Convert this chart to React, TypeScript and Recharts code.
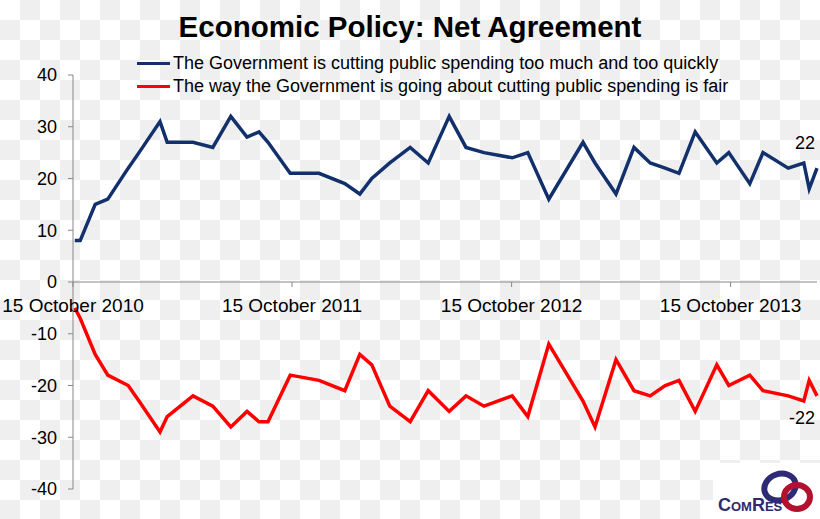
import { Line, LineChart, ReferenceLine, XAxis, YAxis } from "recharts";

// poll dates and net agreement for each statement
const pollDates = [
  "2010-10-18", "2010-10-27", "2010-11-21", "2010-12-12", "2011-01-15",
  "2011-02-02", "2011-03-09", "2011-03-21", "2011-05-03", "2011-06-05",
  "2011-07-05", "2011-08-01", "2011-08-21", "2011-09-05", "2011-10-12",
  "2011-11-29", "2012-01-11", "2012-02-05", "2012-02-25", "2012-03-26",
  "2012-04-29", "2012-05-29", "2012-07-03", "2012-07-31", "2012-08-30",
  "2012-10-16", "2012-11-11", "2012-12-16", "2013-02-11", "2013-03-03",
  "2013-04-07", "2013-05-07", "2013-06-03", "2013-06-28", "2013-07-21",
  "2013-08-17", "2013-09-22", "2013-10-12", "2013-11-16", "2013-12-08",
  "2014-01-19", "2014-02-14", "2014-02-23", "2014-03-08",
];

const tooMuchTooQuickly = [
  8, 8, 15, 16, 22, 25, 31, 27, 27, 26,
  32, 28, 29, 27, 21, 21, 19, 17, 20, 23,
  26, 23, 32, 26, 25, 24, 25, 16, 27, 23,
  17, 26, 23, 22, 21, 29, 23, 25, 19, 25,
  22, 23, 18, 22,
];

const goingAboutItFairly = [
  -5, -7, -14, -18, -20, -23, -29, -26, -22, -24,
  -28, -25, -27, -27, -18, -19, -21, -14, -16, -24,
  -27, -21, -25, -22, -24, -22, -26, -12, -23, -28,
  -15, -21, -22, -20, -19, -25, -16, -20, -18, -21,
  -22, -23, -19, -22,
];

const xTickDates = ["2010-10-15", "2011-10-15", "2012-10-15", "2013-10-15"];
const yTicks = [-40, -30, -20, -10, 0, 10, 20, 30, 40];

const seriesNames = [
  "The Government is cutting public spending too much and too quickly",
  "The way the Government is going about cutting public spending is fair",
];

const MONTHS = [
  "January", "February", "March", "April", "May", "June",
  "July", "August", "September", "October", "November", "December",
];

const toTime = (s: string) => {
  const [y, m, d] = s.split("-").map(Number);
  return Date.UTC(y, m - 1, d);
};

const data = pollDates.map((d, i) => ({
  t: toTime(d),
  tooMuch: tooMuchTooQuickly[i],
  fair: goingAboutItFairly[i],
}));

const WIDTH = 820;
const HEIGHT = 519;
const TOP = 75;
const X_AXIS_H = 30;
const PLOT_H = HEIGHT - TOP - X_AXIS_H;
const ZERO_Y = TOP + PLOT_H / 2;

const BLUE = "#12306b";
const RED = "#ff0000";
const FONT = "'Liberation Sans', Arial, sans-serif";

const formatDate = (t: number) => {
  const d = new Date(t);
  return `${d.getUTCDate()} ${MONTHS[d.getUTCMonth()]} ${d.getUTCFullYear()}`;
};

// x axis sits on the zero line, so the ticks are drawn there
const ZeroAxisTick = ({ x, payload }: any) => (
  <g>
    <line x1={x} x2={x} y1={ZERO_Y} y2={ZERO_Y + 5} stroke="#888" />
    <text
      x={x}
      y={ZERO_Y + 30}
      textAnchor="middle"
      fontSize={19}
      fontFamily={FONT}
      fill="#000"
    >
      {formatDate(payload.value)}
    </text>
  </g>
);

const endLabel = (dy: number) => (props: any) => {
  const { x, y, index, value } = props;
  if (index !== data.length - 1) return null;
  return (
    <text
      x={x - 2}
      y={y + dy}
      textAnchor="end"
      fontSize={18}
      fontFamily={FONT}
      fill="#000"
    >
      {value}
    </text>
  );
};

const Logo = () => (
  <div
    style={{
      position: "absolute",
      left: 713,
      top: 463,
      width: 107,
      height: 56,
      background: "#fff",
    }}
  >
    <svg width={107} height={56}>
      <ellipse
        cx={67}
        cy={24}
        rx={16}
        ry={13}
        fill="none"
        stroke="#2e2a78"
        strokeWidth={6}
        transform="rotate(-20 67 24)"
      />
      <ellipse
        cx={84}
        cy={34}
        rx={13}
        ry={12}
        fill="none"
        stroke="#b3122e"
        strokeWidth={6}
      />
      <text
        x={5}
        y={48}
        fontSize={18}
        fontFamily={FONT}
        fill="#2e2a6b"
        fontWeight="bold"
        style={{ fontVariant: "small-caps" }}
      >
        ComRes
      </text>
    </svg>
  </div>
);

export default function App() {
  return (
    <div
      style={{
        position: "absolute",
        left: 0,
        top: 0,
        width: WIDTH,
        height: HEIGHT,
        backgroundColor: "#fff",
        backgroundImage:
          "repeating-conic-gradient(#efefef 0 25%, #ffffff 0 50%)",
        backgroundSize: "40px 40px",
        fontFamily: FONT,
        overflow: "hidden",
      }}
    >
      <div
        style={{
          position: "absolute",
          left: 0,
          top: 10,
          width: WIDTH,
          textAlign: "center",
          fontSize: 29.5,
          fontWeight: "bold",
          color: "#000",
        }}
      >
        Economic Policy: Net Agreement
      </div>

      {/* legend */}
      {seriesNames.map((name, i) => (
        <div
          key={name}
          style={{
            position: "absolute",
            left: 137,
            top: 52 + i * 23,
            height: 23,
            display: "flex",
            alignItems: "center",
            fontSize: 18,
            color: "#000",
            whiteSpace: "nowrap",
          }}
        >
          <span
            style={{
              display: "inline-block",
              width: 33,
              height: 3,
              background: i === 0 ? BLUE : RED,
              marginRight: 3,
            }}
          />
          {name}
        </div>
      ))}

      <div style={{ position: "absolute", left: 0, top: 0 }}>
        <LineChart
          width={WIDTH}
          height={HEIGHT}
          data={data}
          margin={{ top: TOP, right: 3, bottom: 0, left: 0 }}
        >
          <XAxis
            dataKey="t"
            type="number"
            domain={[toTime("2010-10-15"), toTime("2014-03-08")]}
            ticks={xTickDates.map(toTime)}
            axisLine={false}
            tickLine={false}
            tick={<ZeroAxisTick />}
            height={X_AXIS_H}
            interval={0}
          />
          <YAxis
            domain={[-40, 40]}
            ticks={yTicks}
            width={73}
            stroke="#888"
            tickSize={5}
            tickMargin={11}
            tick={{ fontSize: 18, fill: "#000", fontFamily: FONT }}
            interval={0}
          />
          <ReferenceLine y={0} stroke="#888" />
          <Line
            dataKey="tooMuch"
            stroke={BLUE}
            strokeWidth={3.5}
            dot={false}
            isAnimationActive={false}
            label={endLabel(-19)}
          />
          <Line
            dataKey="fair"
            stroke={RED}
            strokeWidth={3.5}
            dot={false}
            isAnimationActive={false}
            label={endLabel(28)}
          />
        </LineChart>
      </div>

      <Logo />
    </div>
  );
}
